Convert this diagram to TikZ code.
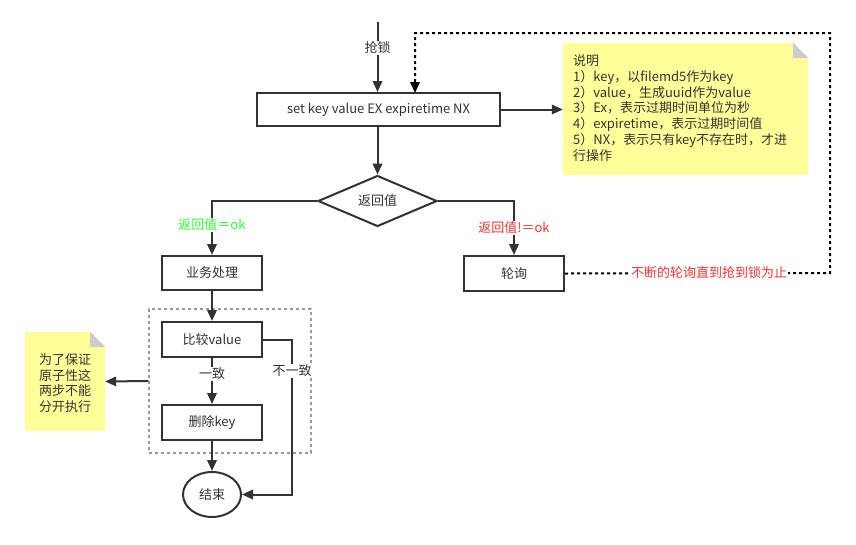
\documentclass[tikz,border=0pt]{standalone}
\usepackage{fontspec}
\setmainfont{Noto Sans CJK SC}
\usetikzlibrary{arrows.meta,shapes.geometric,calc}
\definecolor{ln}{HTML}{333333}
\definecolor{txt}{HTML}{333333}
\definecolor{notey}{HTML}{FFFF99}
\definecolor{fold}{HTML}{CCCCCC}
\definecolor{grn}{HTML}{33FF33}
\definecolor{rd}{HTML}{FF3333}
\definecolor{grp}{HTML}{999999}
\begin{document}
\begin{tikzpicture}[x=1pt,y=-1pt,
  fnt/.style={font=\fontsize{13}{15.7}\selectfont},
  box/.style={draw=ln, line width=2pt, fill=white, minimum width=100pt, minimum height=35pt, inner sep=0pt, text=txt, fnt},
  conn/.style={draw=ln, line width=2pt, -{Triangle[length=11pt,width=9.5pt]}},
  lbl/.style={fill=white, inner sep=1pt, text=txt, fnt},
  ghost/.style={inner sep=0pt, draw=none}
]
\useasboundingbox (0,0) rectangle (856,544);

% group
\node[ghost, draw=grp, line width=1.3pt, dash pattern=on 3pt off 3pt, minimum width=162pt, minimum height=144pt] (grp) at (230,381) {};

% notes
\node[ghost, minimum width=245pt, minimum height=132pt] (n1) at (685.5,109) {};
\fill[notey] (n1.north west) -- ($(n1.north east)+(-15,0)$) -- ($(n1.north east)+(0,15)$) -- (n1.south east) -- (n1.south west) -- cycle;
\fill[fold] ($(n1.north east)+(-15,0)$) -- ($(n1.north east)+(0,15)$) -- ($(n1.north east)+(-15,15)$) -- cycle;
\node[fnt, text=txt, align=left, anchor=west, inner sep=0pt] (n1t) at (573,108) {说明\\1）key，以filemd5作为key\\2）value，生成uuid作为value\\3）Ex，表示过期时间单位为秒\\4）expiretime，表示过期时间值\\5）NX，表示只有key不存在时，才进\\行操作};

\node[ghost, minimum width=80pt, minimum height=99pt] (n2) at (65,381.5) {};
\fill[notey] (n2.north west) -- ($(n2.north east)+(-15,0)$) -- ($(n2.north east)+(0,15)$) -- (n2.south east) -- (n2.south west) -- cycle;
\fill[fold] ($(n2.north east)+(-15,0)$) -- ($(n2.north east)+(0,15)$) -- ($(n2.north east)+(-15,15)$) -- cycle;
\node[fnt, text=txt, align=center, inner sep=0pt] (n2t) at (65,383) {为了保证\\原子性这\\两步不能\\分开执行};

% main nodes
\node[box, minimum width=243pt, minimum height=33pt] (set) at (378.5,109.5) {set key value EX expiretime NX};
\node[draw=ln, line width=2pt, fill=white, diamond, minimum width=119pt, minimum height=42pt, inner sep=0pt, text=txt, fnt] (dec) at (377.5,201) {返回值};
\node[box, minimum height=34pt] (biz) at (212,273) {业务处理};
\node[box] (poll) at (514,273.5) {轮询};
\node[box] (cmp) at (212,339.5) {比较value};
\node[box] (del) at (212,422.5) {删除key};
\node[draw=ln, line width=2pt, fill=white, ellipse, minimum width=58pt, minimum height=45pt, inner sep=0pt, text=txt, fnt] (end) at (212,494.5) {结束};

\coordinate (start) at (377.5,22);
\coordinate (d1) at (830,273);
\coordinate (d2) at (830,33);
\coordinate (d3) at (415,33);
\coordinate (d4) at (415,93);

% connectors
\draw[conn] (start) -- node[lbl, pos=0.37] {抢锁} (set.north -| start);
\draw[conn] (set.east) -- (set.east -| n1.west);
\draw[conn] (set.south -| dec.north) -- (dec.north);
\draw[conn] (dec.west) -| node[lbl, pos=0.72, text=grn] {返回值＝ok} (biz.north);
\draw[conn] (dec.east) -| node[lbl, pos=0.75, text=rd] {返回值!＝ok} (poll.north);
\draw[conn] (biz.south) -- (cmp.north);
\draw[conn] (cmp.south) -- node[lbl, pos=0.34] {一致} (del.north);
\draw[conn] (del.south) -- (end.north);
\draw[conn] (cmp.east) -| node[lbl, pos=0.6] {不一致} (end.east -| 292,0) -- (end.east);
\draw[conn] (grp.west) -- (n2.east);
\draw[line width=2pt, draw=black, dash pattern=on 3pt off 3pt, -{Triangle[length=11pt,width=9.5pt]}] (poll.east) -- (d1) -- (d2) -- (d3) -- (d4);
\node[fill=white, inner sep=1pt, text=rd, fnt] (lblpoll) at (709,273) {不断的轮询直到抢到锁为止};
\end{tikzpicture}
\end{document}
